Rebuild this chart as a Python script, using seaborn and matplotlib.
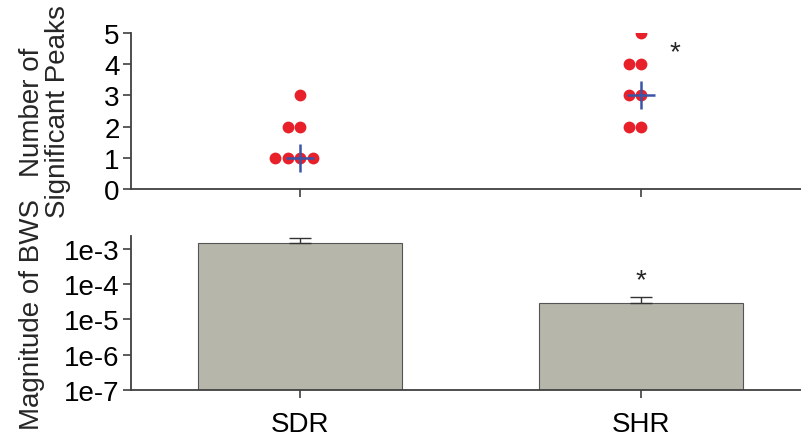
import numpy as np
import pandas as pd
import matplotlib
matplotlib.use("Agg")
import matplotlib.pyplot as plt
import seaborn as sns
from matplotlib.ticker import FixedLocator, FixedFormatter

sns.set_theme(style="white")
plt.rcParams['font.family'] = ['Liberation Sans', 'DejaVu Sans']

groups = ["SDR", "SHR"]
sdr_peaks = [3, 2, 2, 1, 1, 1, 1]
shr_peaks = [5, 4, 4, 3, 3, 2, 2]
bws_mean = [1.48e-3, 2.95e-5]
bws_err = [0.5e-3, 1.45e-5]
peak_ticks = [0, 1, 2, 3, 4, 5]
bws_ticks = [1e-7, 1e-6, 1e-5, 1e-4, 1e-3]
bws_tick_labels = ["1e-7", "1e-6", "1e-5", "1e-4", "1e-3"]

peaks = pd.DataFrame({
    "group": ["SDR"] * len(sdr_peaks) + ["SHR"] * len(shr_peaks),
    "peaks": sdr_peaks + shr_peaks,
})
bws = pd.DataFrame({"group": groups, "bws": bws_mean, "err": bws_err})

fig = plt.figure(figsize=(8.01, 4.39), dpi=100)
ax1 = fig.add_axes([0.1635, 0.567, 0.8365, 0.3555])
ax2 = fig.add_axes([0.1635, 0.1093, 0.8365, 0.3507])

FS = 20
spine_c = "#404040"
for ax in (ax1, ax2):
    for s in ["top", "right"]:
        ax.spines[s].set_visible(False)
    for s in ["left", "bottom"]:
        ax.spines[s].set_color(spine_c)
        ax.spines[s].set_linewidth(1.3)
    ax.tick_params(axis="both", which="major", direction="out", length=6,
                   width=1.2, color=spine_c, labelsize=FS, labelcolor="black",
                   left=True, bottom=True, pad=2)

# Top panel
sns.swarmplot(data=peaks, x="group", y="peaks", order=groups, color="#e8202a",
              size=8.5, ax=ax1, zorder=2)
med = peaks.groupby("group")["peaks"].median().reindex(groups)
ax1.plot(range(len(groups)), med.values, linestyle="none", marker="+",
         markersize=20, mew=1.8, color="#3a55a8", zorder=3)
ax1.text(1.1, 4.4, "*", ha="center", va="center", fontsize=20)
ax1.set_ylim(0, 5)
ax1.set_xlim(-0.497, 1.47)
ax1.yaxis.set_major_locator(FixedLocator(peak_ticks))
ax1.set_xticks(range(len(groups)))
ax1.set_xticklabels([])
ax1.set_xlabel("")
ax1.set_ylabel("Number of\nSignificant Peaks", fontsize=FS, labelpad=24,
               linespacing=1.0)

# Bottom panel
sns.barplot(data=bws, x="group", y="bws", order=groups, color="#b6b6ab",
            saturation=1, width=0.6, edgecolor="#555555", linewidth=0.8,
            errorbar=None, ax=ax2, zorder=2)
ax2.set_yscale("log")
ax2.errorbar(range(len(groups)), bws["bws"], yerr=[np.zeros(len(groups)), bws["err"]],
             fmt="none", ecolor="#333333", elinewidth=1.0, capsize=8, capthick=1.0,
             zorder=3)
ax2.text(1, 1.3e-4, "*", ha="center", va="center", fontsize=20)
ax2.set_ylim(1e-7, 2.3e-3)
ax2.set_xlim(-0.497, 1.47)
ax2.yaxis.set_major_locator(FixedLocator(bws_ticks))
ax2.yaxis.set_major_formatter(FixedFormatter(bws_tick_labels))
ax2.yaxis.set_minor_locator(FixedLocator([]))
ax2.tick_params(axis="x", labelsize=FS, pad=9)
ax2.set_xlabel("")
ax2.set_ylabel("Magnitude of BWS", fontsize=FS, labelpad=14)

fig.savefig("out.png", dpi=100)
